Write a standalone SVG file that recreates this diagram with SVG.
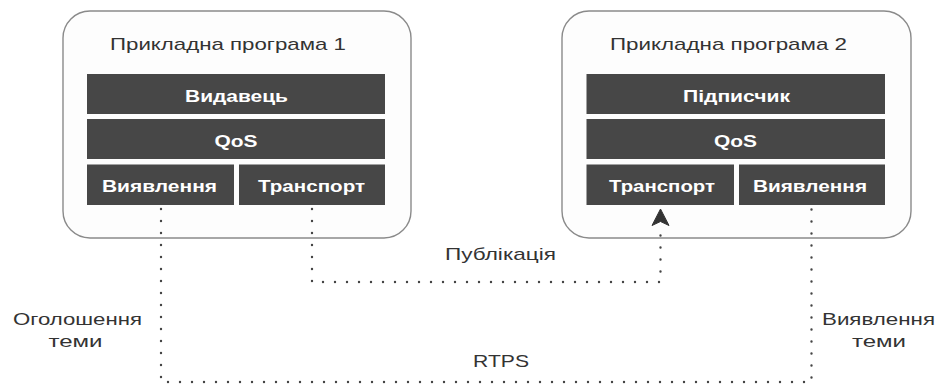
<svg xmlns="http://www.w3.org/2000/svg" width="937" height="385" viewBox="0 0 937 385">
<style>
.app{fill:#fdfdfd;stroke:#8a8a8a;stroke-width:1.4}
.blk{fill:#474747}
.bt{font-family:"Liberation Sans",Arial,sans-serif;font-weight:bold;font-size:17px;fill:#ffffff;text-anchor:middle}
.tt{font-family:"Liberation Sans",Arial,sans-serif;font-size:17px;fill:#333333;text-anchor:middle}
.lb{font-family:"Liberation Sans",Arial,sans-serif;font-size:17px;fill:#333333;text-anchor:middle}
.dot{fill:none;stroke:#444444;stroke-width:2.4;stroke-linecap:round;stroke-dasharray:0 12}
</style>
<g id="app1">
<rect class="app" x="63" y="11" width="348" height="227" rx="27" ry="27"/>
<text class="tt" x="228" y="50" textLength="236" lengthAdjust="spacingAndGlyphs">Прикладна програма 1</text>
</g>
<g id="publisher">
<rect class="blk" x="87" y="74" width="298" height="40"/>
<text class="bt" x="236.5" y="101.5" textLength="103" lengthAdjust="spacingAndGlyphs">Видавець</text>
</g>
<g id="qos1">
<rect class="blk" x="87" y="119" width="298" height="40"/>
<text class="bt" x="236" y="146.5" textLength="43" lengthAdjust="spacingAndGlyphs">QoS</text>
</g>
<g id="discovery1">
<rect class="blk" x="87" y="164.5" width="147" height="40.5"/>
<text class="bt" x="159.5" y="191.5" textLength="115" lengthAdjust="spacingAndGlyphs">Виявлення</text>
</g>
<g id="transport1">
<rect class="blk" x="239" y="164.5" width="146" height="40.5"/>
<text class="bt" x="311.5" y="191.5" textLength="107" lengthAdjust="spacingAndGlyphs">Транспорт</text>
</g>
<g id="app2">
<rect class="app" x="562" y="11" width="349" height="227" rx="27" ry="27"/>
<text class="tt" x="728.5" y="50" textLength="237" lengthAdjust="spacingAndGlyphs">Прикладна програма 2</text>
</g>
<g id="subscriber">
<rect class="blk" x="586.5" y="74" width="298.5" height="40"/>
<text class="bt" x="736.5" y="101.5" textLength="107" lengthAdjust="spacingAndGlyphs">Підписчик</text>
</g>
<g id="qos2">
<rect class="blk" x="586.5" y="119" width="298.5" height="40"/>
<text class="bt" x="735.5" y="146.5" textLength="43" lengthAdjust="spacingAndGlyphs">QoS</text>
</g>
<g id="transport2">
<rect class="blk" x="586.5" y="164.5" width="147.5" height="40.5"/>
<text class="bt" x="662" y="191.5" textLength="106" lengthAdjust="spacingAndGlyphs">Транспорт</text>
</g>
<g id="discovery2">
<rect class="blk" x="739" y="164.5" width="146" height="40.5"/>
<text class="bt" x="810" y="191.5" textLength="114" lengthAdjust="spacingAndGlyphs">Виявлення</text>
</g>
<g id="connectors">
<path class="dot" d="M312,209 V282 H660.5 V227" />
<path d="M660.5,209 L669,225.5 L660.5,221.5 L652,225.5 Z" fill="#333333" stroke="#333333" stroke-width="1" stroke-linejoin="miter"/>
<path class="dot" d="M161,209 V382 H811.5 V209" />
<text class="lb" x="500.5" y="260" textLength="111" lengthAdjust="spacingAndGlyphs">Публікація</text>
<text class="lb" x="501" y="366.5" textLength="56" lengthAdjust="spacingAndGlyphs">RTPS</text>
<text class="lb" x="77.5" y="325" textLength="129" lengthAdjust="spacingAndGlyphs">Оголошення</text>
<text class="lb" x="75.5" y="347" textLength="54" lengthAdjust="spacingAndGlyphs">теми</text>
<text class="lb" x="878.5" y="325" textLength="113" lengthAdjust="spacingAndGlyphs">Виявлення</text>
<text class="lb" x="879" y="347" textLength="54" lengthAdjust="spacingAndGlyphs">теми</text>
</g>
</svg>
